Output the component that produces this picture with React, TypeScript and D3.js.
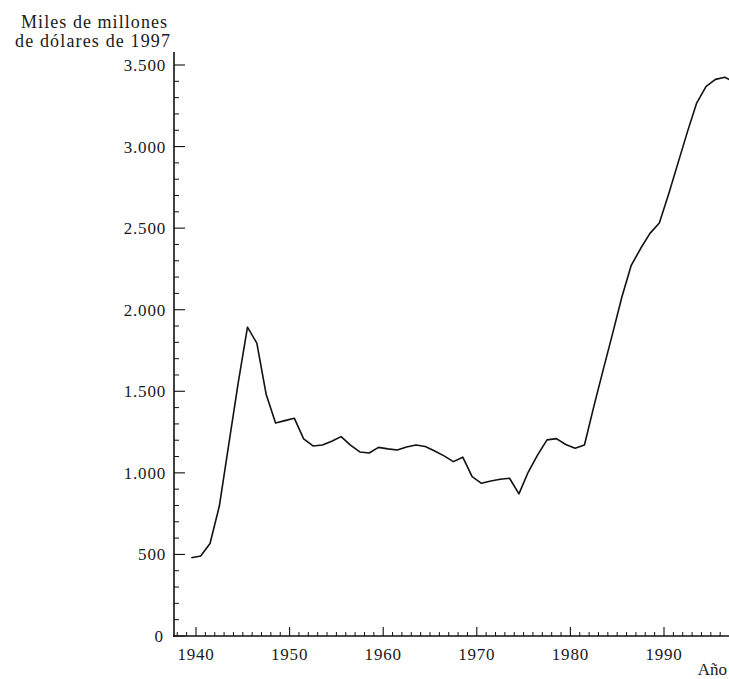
import React from "react";
import * as d3 from "d3";

const years: number[] = [
  1939, 1940, 1941, 1942, 1943, 1944, 1945, 1946, 1947, 1948, 1949,
  1950, 1951, 1952, 1953, 1954, 1955, 1956, 1957, 1958, 1959,
  1960, 1961, 1962, 1963, 1964, 1965, 1966, 1967, 1968, 1969,
  1970, 1971, 1972, 1973, 1974, 1975, 1976, 1977, 1978, 1979,
  1980, 1981, 1982, 1983, 1984, 1985, 1986, 1987, 1988, 1989,
  1990, 1991, 1992, 1993, 1994, 1995, 1996, 1997,
];
const debt: number[] = [
  480, 490, 567, 798, 1174, 1548, 1893, 1795, 1480, 1306, 1320,
  1335, 1208, 1165, 1171, 1194, 1222, 1170, 1128, 1122, 1156,
  1147, 1140, 1159, 1171, 1162, 1134, 1104, 1069, 1096, 977,
  936, 950, 961, 967, 871, 1005, 1110, 1202, 1210, 1174,
  1151, 1171, 1406, 1631, 1852, 2078, 2272, 2375, 2468, 2532,
  2710, 2900, 3090, 3268, 3369, 3412, 3425, 3397,
];
const yMajorTicks: number[] = [0, 500, 1000, 1500, 2000, 2500, 3000, 3500];
const xMajorTicks: number[] = [1940, 1950, 1960, 1970, 1980, 1990];
const titleLines: string[] = ["Miles de millones", "de dólares de 1997"];
const xTitle = "Año";

const W = 729;
const H = 679;
const FONT = "'Liberation Serif', 'Times New Roman', serif";

const locale = d3.formatLocale({
  decimal: ",",
  thousands: ".",
  grouping: [3],
  currency: ["", ""],
});
const fmt = locale.format(",");

export default function App() {
  const x = d3.scaleLinear().domain([1940, 1990]).range([196, 664]);
  const y = d3.scaleLinear().domain([0, 3500]).range([636, 65]);
  const axisX = 174;
  const axisY = y(0);

  const data = years.map((yr, i) => ({ yr, v: debt[i] }));
  const line = d3
    .line<{ yr: number; v: number }>()
    .x((d) => x(d.yr + 0.5))
    .y((d) => y(d.v));

  const yMinor = d3.range(0, 3501, 100).filter((v) => v % 500 !== 0);
  const xMinor = d3.range(1938, 1998).filter((v) => v % 10 !== 0);

  return (
    <svg
      width={W}
      height={H}
      viewBox={`0 0 ${W} ${H}`}
      style={{ position: "absolute", left: 0, top: 0, background: "#fff" }}
    >
      <rect x={0} y={0} width={W} height={H} fill="#fff" />
      {/* y-axis title */}
      <g fontFamily={FONT} fontSize={18} fill="#1a1a1a" textAnchor="end">
        <text x={167} y={28} textLength={146} lengthAdjust="spacing">
          {titleLines[0]}
        </text>
        <text x={170} y={47} textLength={155} lengthAdjust="spacing">
          {titleLines[1]}
        </text>
      </g>

      {/* y axis */}
      <line x1={axisX} x2={axisX} y1={axisY + 1} y2={52} stroke="#111" strokeWidth={1.6} />
      {yMajorTicks.map((t) => (
        <g key={`ym${t}`}>
          <line x1={axisX} x2={axisX + 11} y1={y(t)} y2={y(t)} stroke="#111" strokeWidth={1.1} />
          <text
            x={t === 0 ? 163 : 166}
            y={y(t) + 6}
            textAnchor="end"
            fontFamily={FONT}
            fontSize={17}
            letterSpacing={t === 0 ? 0 : 0.8}
            fill="#1a1a1a"
          >
            {fmt(t)}
          </text>
        </g>
      ))}
      {yMinor.map((t) => (
        <line key={`yn${t}`} x1={axisX} x2={axisX + 5} y1={y(t)} y2={y(t)} stroke="#111" strokeWidth={1} />
      ))}

      {/* x axis */}
      <line x1={axisX - 1} x2={W} y1={axisY} y2={axisY} stroke="#111" strokeWidth={1.6} />
      {xMajorTicks.map((t) => (
        <g key={`xm${t}`}>
          <line x1={x(t)} x2={x(t)} y1={axisY} y2={axisY - 9} stroke="#111" strokeWidth={1.1} />
          <text
            x={x(t)}
            y={660}
            textAnchor="middle"
            fontFamily={FONT}
            fontSize={17}
            letterSpacing={0.8}
            fill="#1a1a1a"
          >
            {t}
          </text>
        </g>
      ))}
      {xMinor.map((t) => (
        <line key={`xn${t}`} x1={x(t)} x2={x(t)} y1={axisY} y2={axisY - 4} stroke="#111" strokeWidth={1} />
      ))}
      <text x={727} y={675} textAnchor="end" fontFamily={FONT} fontSize={17} fill="#1a1a1a">
        {xTitle}
      </text>

      {/* data line */}
      <path d={line(data) || ""} fill="none" stroke="#111" strokeWidth={1.6} strokeLinejoin="round" />
    </svg>
  );
}
